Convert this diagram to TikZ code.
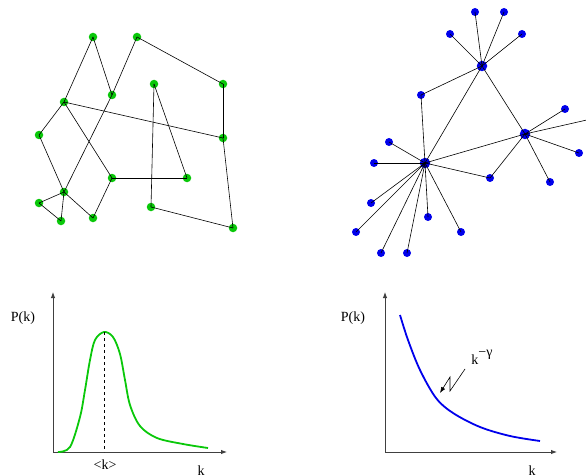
\documentclass[tikz,border=0pt]{standalone}
\usepackage{fontspec}
\setmainfont{Liberation Serif}
\usetikzlibrary{arrows.meta}
\definecolor{mygreen}{RGB}{10,200,10}
\definecolor{myblue}{RGB}{0,0,235}

\begin{document}
\begin{tikzpicture}[x=1pt, y=-1pt, >={Latex[length=6pt,width=4.5pt]}, font=\fontsize{14}{16}\selectfont,
    gdot/.style={circle, fill=mygreen, inner sep=0pt, minimum size=8.5pt},
    bdot/.style={circle, fill=myblue, inner sep=0pt, minimum size=8pt},
    hub/.style={bdot, minimum size=10.5pt},
    edge/.style={black, line width=0.6pt},
    axis/.style={->, black!75, line width=0.9pt}]

    \useasboundingbox (0,0) rectangle (586,476);

    % ===== RANDOM NETWORK =====
    \foreach \name/\x/\y in {a1/93/37, a2/137/37, a3/154/84, a4/223/84, a5/112/95,
                             a6/64/102, a7/39/135, a8/223/138, a9/112/178, a10/187/178,
                             a11/64/192, a12/39/203, a13/151/207, a14/93/218, a15/61/221, a16/233/228}
        \node[gdot] (\name) at (\x,\y) {};
    \foreach \u/\v in {a1/a6, a1/a5, a2/a5, a5/a11, a2/a4, a4/a8, a6/a8, a6/a7, a6/a9, a7/a11,
                       a11/a12, a11/a15, a12/a15, a11/a14, a14/a9, a9/a10, a10/a3, a3/a13, a13/a16, a8/a16}
        \draw[edge] (\u.center) -- (\v.center);

    % ===== SCALE-FREE NETWORK =====
    % hubs
    \node[hub] (h1) at (482,66) {};
    \node[hub] (h2) at (425,163) {};
    \node[hub] (h3) at (525,134) {};
    % nodes shared by two hubs
    \node[bdot] (m1) at (421,95) {};
    \node[bdot] (m2) at (490,178) {};
    % leaves
    \foreach \i/\x/\y/\h in {1/475/12/h1, 2/504/12/h1, 3/450/34/h1, 4/522/34/h1,
                             5/565/109/h3, 6/600/117/h3, 7/579/153/h3, 8/550/182/h3,
                             9/389/142/h2, 10/374/163/h2, 11/371/203/h2, 12/356/232/h2,
                             13/381/253/h2, 14/407/253/h2, 15/428/217/h2, 16/461/232/h2}
    {
        \node[bdot] (b\i) at (\x,\y) {};
        \draw[edge] (\h.center) -- (b\i.center);
    }
    \foreach \u/\v in {h1/h2, h1/h3, h2/h3, h1/m1, m1/h2, h2/m2, m2/h3}
        \draw[edge] (\u.center) -- (\v.center);

    % ===== POISSON DISTRIBUTION =====
    \coordinate (o1) at (53,452);
    \draw[axis] (o1) -- ++(0,-160);
    \draw[axis] (o1) -- ++(174,0);
    \node (p1) at (23,318) {P(k)};
    \node (k1) at (201,471) {k};
    \coordinate (peak) at (104,332);
    \draw[mygreen, line width=1.8pt] plot[smooth, tension=0.55] coordinates {
        (58,452) (70,447) (80,417) (85,390) (90,360) (95,340) (104,332) (113,337)
        (120,354) (125,380) (130,405) (140,426) (157,438) (183,444) (208,448)};
    \draw[dashed, line width=0.6pt] (peak) -- (peak |- o1);
    \node (avg) at (105,465) {<k>};

    % ===== POWER LAW =====
    \coordinate (o2) at (385,452);
    \draw[axis] (o2) -- ++(0,-160);
    \draw[axis] (o2) -- ++(172,0);
    \node (p2) at (353,318) {P(k)};
    \node (k2) at (532,471) {k};
    \draw[myblue, line width=1.8pt] plot[smooth, tension=0.55] coordinates {
        (400,315) (408,340) (420,370) (436,398) (453,413) (480,427) (510,436) (540,441)};
    \node (gam) at (482,357) {k\raisebox{1.2ex}{−γ}};
    % zigzag pointer
    \coordinate (z1) at (465,369);
    \coordinate (z2) at (440,393);
    \draw[->, line width=0.6pt] (z1) -- (450,391) -- (450,377) -- (z2);

\end{tikzpicture}
\end{document}
